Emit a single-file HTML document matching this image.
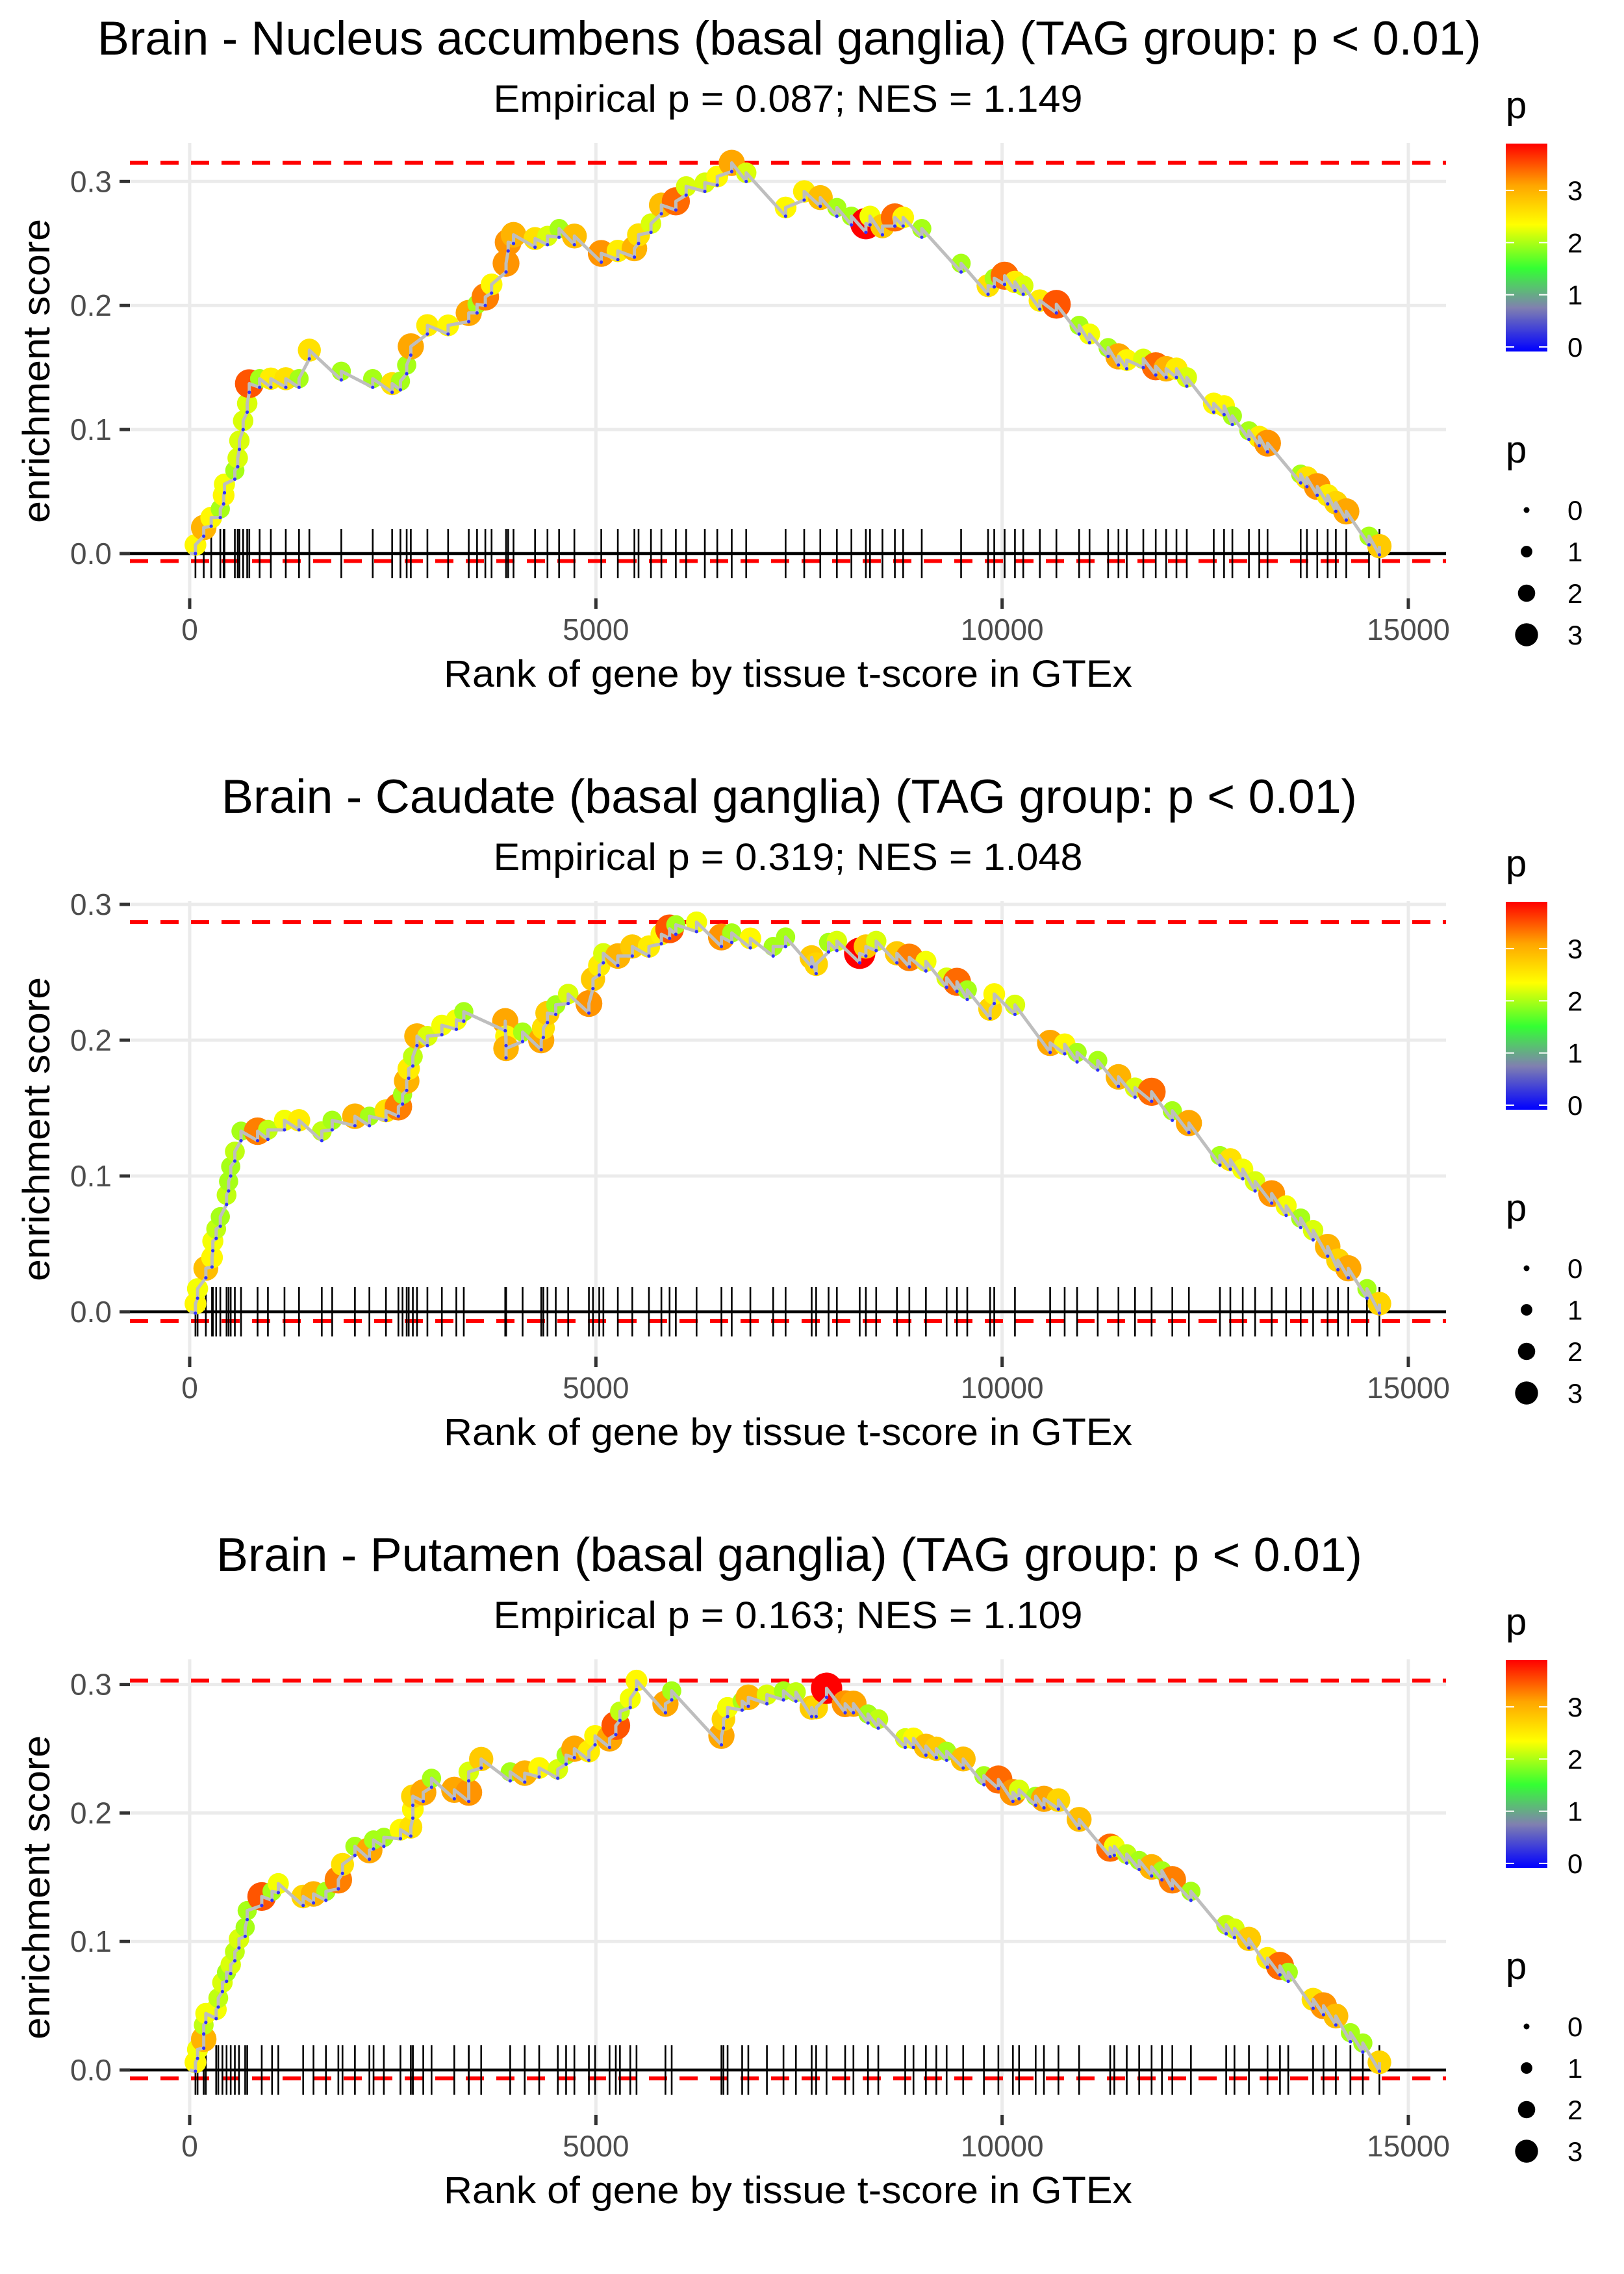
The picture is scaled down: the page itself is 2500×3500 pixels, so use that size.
<!DOCTYPE html>
<html><head><meta charset="utf-8"><style>
html,body{margin:0;padding:0;background:#fff;}
svg{display:block;font-family:"Liberation Sans",Arial,sans-serif;}
</style></head>
<body>
<svg id="fig" xmlns="http://www.w3.org/2000/svg" width="2500" height="3500" viewBox="0 0 2500 3500">
<rect x="0" y="0" width="2500" height="3500" fill="#fff"/>
<defs>
<linearGradient id="cbar" x1="0" y1="1" x2="0" y2="0">
<stop offset="0" stop-color="#0000ff"/>
<stop offset="0.21" stop-color="#8080b0"/>
<stop offset="0.40" stop-color="#33ff33"/>
<stop offset="0.61" stop-color="#ffff00"/>
<stop offset="0.80" stop-color="#ffa500"/>
<stop offset="1" stop-color="#ff0000"/>
</linearGradient>
</defs>
</svg>
<script>
// ---------- data ----------
const titles = ["Brain - Nucleus accumbens (basal ganglia) (TAG group: p < 0.01)",
                "Brain - Caudate (basal ganglia) (TAG group: p < 0.01)",
                "Brain - Putamen (basal ganglia) (TAG group: p < 0.01)"];
const subtitles = ["Empirical p = 0.087; NES = 1.149",
                   "Empirical p = 0.319; NES = 1.048",
                   "Empirical p = 0.163; NES = 1.109"];
const xTicks = [0, 5000, 10000, 15000];
const xTickLabels = ["0", "5000", "10000", "15000"];
const yTicks = [0, 0.1, 0.2, 0.3];
const yTickLabels = ["0.0", "0.1", "0.2", "0.3"];
const esMin = [-0.006, -0.0067, -0.0065];
const legendTicks = [0, 1, 2, 3];

const rank1 = [71,173,265,377,418,428,556,591,612,658,708,734,861,999,1183,1346,1473,1866,2253,2492,2594,2671,2722,2926,3181,3435,3537,3639,3716,3894,3920,3986,4251,4404,4547,4735,5066,5270,5474,5525,5678,5806,5984,6111,6341,6494,6672,6850,7335,7564,7762,7966,8145,8323,8374,8527,8680,8782,9011,9495,9827,9903,10031,10158,10260,10464,10668,10948,11076,11305,11432,11534,11738,11891,12019,12146,12273,12605,12732,12834,13038,13165,13267,13675,13752,13879,14007,14108,14236,14516,14644];
const es1 = [.007,.021,.029,.036,.047,.056,.067,.077,.091,.107,.121,.137,.141,.141,.141,.141,.164,.147,.141,.137,.139,.152,.167,.184,.184,.194,.201,.207,.217,.234,.251,.257,.254,.256,.262,.256,.242,.244,.246,.257,.266,.281,.284,.296,.299,.304,.315,.307,.279,.292,.287,.279,.272,.266,.272,.264,.271,.271,.262,.234,.216,.222,.224,.219,.216,.204,.201,.184,.177,.166,.159,.156,.157,.151,.149,.149,.142,.121,.119,.111,.099,.094,.089,.064,.061,.054,.047,.041,.034,.014,.006];
const p1 = [2.4,3.0,2.4,2.0,2.4,2.3,2.0,2.2,2.2,2.2,2.2,3.5,2.0,2.5,2.6,2.0,2.6,2.0,2.0,2.6,2.0,2.0,3.1,2.5,2.4,3.1,2.0,3.3,2.4,3.2,3.2,3.0,2.6,2.2,2.0,2.9,3.2,2.5,3.0,2.6,2.2,2.9,3.4,2.2,2.2,2.4,3.1,2.2,2.4,2.5,2.9,2.0,2.0,3.9,2.3,2.8,3.4,2.4,2.0,2.0,2.6,2.0,3.4,2.5,2.2,2.5,3.5,2.0,2.3,2.0,3.1,2.4,2.2,3.4,3.0,2.5,2.2,2.4,2.4,2.0,2.0,2.5,3.2,2.0,2.6,3.2,2.5,2.7,3.1,2.0,2.8];

const rank2 = [71,97,199,275,285,326,377,454,479,505,556,632,836,963,1167,1346,1626,1754,2034,2212,2416,2569,2620,2671,2696,2747,2798,2926,3104,3282,3374,3884,3894,3894,4098,4327,4353,4404,4506,4659,4914,4964,5041,5092,5270,5448,5653,5806,5907,5984,6239,6545,6672,6901,7182,7335,7656,7711,7864,7966,8247,8323,8450,8705,8858,9062,9317,9444,9571,9852,9903,10158,10591,10770,10923,11177,11432,11636,11840,12095,12299,12681,12809,12962,13114,13318,13496,13675,13828,14007,14134,14261,14491,14644];
const es2 = [.006,.017,.032,.040,.052,.061,.070,.086,.096,.107,.118,.133,.133,.134,.141,.141,.133,.141,.144,.144,.148,.151,.160,.170,.179,.188,.203,.203,.211,.215,.221,.214,.203,.194,.206,.200,.209,.220,.226,.234,.227,.245,.255,.264,.262,.269,.269,.278,.282,.285,.287,.276,.279,.275,.269,.276,.261,.256,.272,.273,.264,.269,.273,.264,.261,.258,.246,.243,.237,.223,.234,.226,.198,.197,.191,.185,.173,.165,.162,.148,.139,.115,.112,.105,.096,.087,.078,.069,.060,.048,.038,.032,.017,.006];
const p2 = [2.4,2.3,2.9,2.4,2.3,2.1,2.0,2.1,2.0,2.0,2.1,2.0,3.3,2.1,2.3,2.5,2.1,2.0,3.0,2.0,2.6,3.3,2.0,3.0,2.5,2.1,3.0,2.2,2.3,2.3,2.0,3.1,2.4,3.0,2.0,3.1,2.6,2.8,2.0,2.2,3.2,2.8,2.5,2.2,3.0,2.8,2.5,2.4,3.5,2.0,2.3,3.2,2.0,2.4,2.0,2.0,2.8,2.7,2.0,2.2,3.9,2.8,2.2,2.8,3.3,2.3,2.2,3.4,2.0,2.7,2.4,2.2,3.1,2.4,2.0,2.0,3.0,2.2,3.4,2.0,3.1,2.0,2.6,2.3,2.2,3.2,2.3,2.0,2.2,3.0,2.7,3.1,2.0,2.7];

const rank3 = [71,97,173,173,199,326,352,403,454,505,556,607,683,708,887,1014,1091,1397,1524,1677,1830,1881,2034,2212,2263,2390,2594,2722,2747,2747,2875,2977,3257,3435,3435,3588,3945,4124,4302,4531,4633,4735,4914,4990,5168,5245,5296,5423,5500,5856,5933,6545,6570,6621,6800,6876,7105,7309,7462,7656,7711,7839,8068,8170,8349,8476,8807,8909,9062,9190,9317,9521,9776,9954,10133,10209,10413,10515,10693,10948,11330,11381,11534,11687,11840,11967,12095,12324,12758,12860,13038,13267,13420,13522,13828,13956,14108,14287,14440,14644];
const es3 = [.006,.016,.024,.035,.044,.047,.056,.068,.076,.082,.092,.102,.111,.124,.135,.139,.145,.135,.137,.139,.148,.160,.174,.171,.179,.181,.187,.189,.203,.213,.216,.227,.218,.216,.232,.242,.232,.231,.235,.234,.245,.250,.248,.260,.258,.268,.279,.289,.303,.285,.295,.260,.273,.282,.287,.290,.292,.295,.294,.282,.282,.297,.285,.285,.277,.273,.258,.258,.252,.250,.248,.242,.229,.226,.216,.218,.213,.211,.210,.195,.173,.174,.168,.163,.158,.155,.148,.139,.113,.110,.102,.087,.081,.076,.055,.050,.042,.029,.021,.006];
const p3 = [2.4,2.3,3.0,2.1,2.3,2.3,2.1,2.2,2.0,2.2,2.1,2.2,2.0,2.0,3.5,2.0,2.3,2.7,3.0,2.0,3.3,2.6,2.0,3.1,2.0,2.0,2.4,2.6,2.4,2.7,3.1,2.0,3.1,3.2,2.2,2.8,2.0,3.0,2.4,2.2,2.0,3.1,2.5,2.4,3.1,3.5,2.1,2.3,2.4,3.1,2.0,3.1,2.7,2.3,2.0,3.0,2.2,2.0,2.1,2.8,2.7,3.9,3.2,3.1,2.0,2.1,2.2,2.4,2.9,2.8,2.0,2.9,2.0,3.4,3.2,2.2,2.0,3.1,2.7,2.9,3.4,2.3,2.1,2.0,3.0,2.0,3.3,2.0,2.1,2.2,2.8,2.5,3.4,2.0,2.6,3.2,2.9,2.0,2.0,2.7];

const ranks = [rank1, rank2, rank3];
const esVals = [es1, es2, es3];
const pVals = [p1, p2, p3];

// ---------- layout ----------
const NS = "http://www.w3.org/2000/svg";
const svg = document.getElementById("fig");
const PANEL_OFF = 1167;
const pxPerTenth = [190.9, 209.0, 197.8];
const titleWidths = [2130, 1748, 1764];
function xScale(r) { return 292 + r * (1876 / 15000); }
function yScale(i, v) { return 852 + i * PANEL_OFF - v * 10 * pxPerTenth[i]; }
function pColor(p) {
  const stops = [[0,[0,0,255]],[0.78,[128,128,176]],[1.56,[51,255,51]],[2.34,[255,255,0]],[3.12,[255,165,0]],[3.9,[255,0,0]]];
  if (p <= 0) return "rgb(0,0,255)";
  for (let k = 1; k < stops.length; k++) {
    if (p <= stops[k][0]) {
      const a = stops[k-1], b = stops[k], t = (p - a[0]) / (b[0] - a[0]);
      const c = a[1].map((v, j) => Math.round(v + (b[1][j] - v) * t));
      return "rgb(" + c.join(",") + ")";
    }
  }
  return "rgb(255,0,0)";
}
function pRadius(p) { return 5 + 4.9 * p; }
function mk(tag, attrs, parent) {
  const e = document.createElementNS(NS, tag);
  for (const k in attrs) e.setAttribute(k, attrs[k]);
  (parent || svg).appendChild(e);
  return e;
}

for (let i = 0; i < 3; i++) {
  const off = i * PANEL_OFF;
  const g = mk("g", {});
  
  

  const t = mk("text", {x: 1215, y: 84 + off, "font-size": 73, "text-anchor": "middle", fill: "#000", textLength: titleWidths[i], lengthAdjust: "spacingAndGlyphs"}, g);
  t.textContent = titles[i];
  
  
  const st = mk("text", {x: 1213, y: 172 + off, "font-size": 58, "text-anchor": "middle", fill: "#000", textLength: 907, lengthAdjust: "spacingAndGlyphs"}, g);
  st.textContent = subtitles[i];
  
  

  const top = 220 + off, bot = 921 + off;
  xTicks.forEach((v, k) => {
    const gl = mk("line", {x1: xScale(v), x2: xScale(v), y1: top, y2: bot, stroke: "#ebebeb", "stroke-width": 5}, g);
    
    
    const tk = mk("line", {x1: xScale(v), x2: xScale(v), y1: bot, y2: bot + 16, stroke: "#333", "stroke-width": 5}, g);
    
    
    const tl = mk("text", {x: xScale(v), y: bot + 64, "font-size": 46, "text-anchor": "middle", fill: "#4d4d4d"}, g);
    tl.textContent = xTickLabels[k];
    
    
  });
  yTicks.forEach((v, k) => {
    const y = yScale(i, v);
    const gl = mk("line", {x1: 200, x2: 2226, y1: y, y2: y, stroke: "#ebebeb", "stroke-width": 5}, g);
    
    
    const tk = mk("line", {x1: 184, x2: 200, y1: y, y2: y, stroke: "#333", "stroke-width": 5}, g);
    
    
    const tl = mk("text", {x: 172, y: y + 16, "font-size": 46, "text-anchor": "end", fill: "#4d4d4d"}, g);
    tl.textContent = yTickLabels[k];
    
    
  });

  const R = ranks[i], E = esVals[i], P = pVals[i];
  const esMax = Math.max(...E);
  [esMax, esMin[i]].forEach((v, k) => {
    const dl = mk("line", {x1: 200, x2: 2226, y1: yScale(i, v), y2: yScale(i, v), stroke: "#ff0000", "stroke-width": 6, "stroke-dasharray": "28 19"}, g);
    
    
  });
  R.forEach(r => {
    const rl = mk("line", {x1: xScale(r), x2: xScale(r), y1: yScale(i, 0) - 38, y2: yScale(i, 0) + 38, stroke: "#000", "stroke-width": 2.6}, g);
    
    
  });
  const zl = mk("line", {x1: 200, x2: 2226, y1: yScale(i, 0), y2: yScale(i, 0), stroke: "#000", "stroke-width": 4.5}, g);
  
  
  R.forEach((r, k) => {
    const c = mk("circle", {cx: xScale(r), cy: yScale(i, E[k]), r: pRadius(P[k]), fill: pColor(P[k])}, g);
    
    
  });
  let d = "M" + xScale(0) + "," + yScale(i, 0);
  const valleys = [];
  R.forEach((r, k) => {
    const vv = E[k] - 0.007;
    valleys.push(vv);
    d += " L" + xScale(r) + "," + yScale(i, vv) + " L" + xScale(r) + "," + yScale(i, E[k]);
  });
  const pl = mk("path", {d: d, fill: "none", stroke: "#bebebe", "stroke-width": 5, "stroke-linejoin": "round"}, g);
  
  
  R.forEach((r, k) => {
    const c = mk("circle", {cx: xScale(r), cy: yScale(i, valleys[k]), r: 2.6, fill: "#3030ff"}, g);
    
    
  });

  const xt = mk("text", {x: 1213, y: 1057 + off, "font-size": 58, "text-anchor": "middle", fill: "#000", textLength: 1060, lengthAdjust: "spacingAndGlyphs"}, g);
  xt.textContent = "Rank of gene by tissue t-score in GTEx";
  
  
  const yt = mk("text", {x: 0, y: 0, "font-size": 58, "text-anchor": "middle", fill: "#000", textLength: 468, lengthAdjust: "spacingAndGlyphs", transform: "translate(76," + (571 + off) + ") rotate(-90)"}, g);
  yt.textContent = "enrichment score";
  
  

  const lg = mk("g", {}, g);
  
  
  const lt = mk("text", {x: 2318, y: 182 + off, "font-size": 58, fill: "#000"}, lg);
  lt.textContent = "p";
  
  
  const cb = mk("rect", {x: 2318, y: 221 + off, width: 64, height: 320, fill: "url(#cbar)"}, lg);
  
  
  legendTicks.forEach(v => {
    const y = 534 + off - v * 80.3;
    mk("line", {x1: 2318, x2: 2331, y1: y, y2: y, stroke: "#fff", "stroke-width": 2}, lg);
    mk("line", {x1: 2369, x2: 2382, y1: y, y2: y, stroke: "#fff", "stroke-width": 2}, lg);
    const l = mk("text", {x: 2413, y: y + 15, "font-size": 42, fill: "#000"}, lg);
    l.textContent = String(v);
    
    
  });
  const sg = mk("g", {}, g);
  
  
  const s = mk("text", {x: 2318, y: 712 + off, "font-size": 58, fill: "#000"}, sg);
  s.textContent = "p";
  
  
  legendTicks.forEach(v => {
    const y = 785 + off + v * 64;
    const c = mk("circle", {cx: 2350, cy: y, r: 4.5 + 4.4 * v, fill: "#000"}, sg);
    
    
    const l = mk("text", {x: 2413, y: y + 15, "font-size": 42, fill: "#000"}, sg);
    l.textContent = String(v);
    
    
  });
}
</script>
</body></html>
